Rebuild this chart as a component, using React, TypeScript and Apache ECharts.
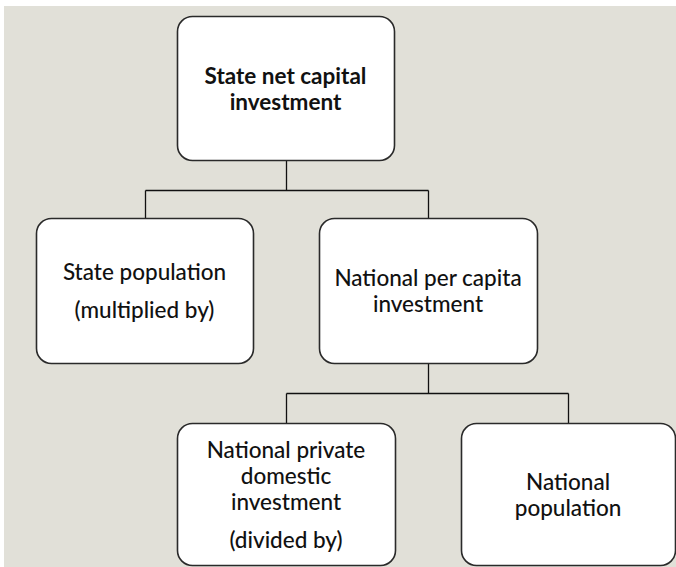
import React, { useEffect, useRef } from "react";
import * as echarts from "echarts";

// ---- data: the tree (labels as paragraphs of lines) ----
const nodeIds = ["root", "statePop", "natPerCap", "natPriv", "natPop"];
const nodeLabels: string[][][] = [
  [["State net capital", "investment"]],
  [["State population"], ["(multiplied by)"]],
  [["National per capita", "investment"]],
  [["National private", "domestic", "investment"], ["(divided by)"]],
  [["National", "population"]],
];
const nodeParents: (string | null)[] = [null, "root", "root", "natPerCap", "natPerCap"];
const boldNodes = ["root"];

// ---- layout (pixels): x, y, width, height ----
const boxLayout: Record<string, number[]> = {
  root: [177, 16, 217, 144],
  statePop: [36, 218, 217, 145],
  natPerCap: [319, 218, 218, 145],
  natPriv: [177, 423, 218, 142],
  natPop: [461, 423, 214, 142],
};
const branchY: Record<string, number> = { root: 190, natPerCap: 393 };

const FONT = "Lato, 'Open Sans', sans-serif";
const FONT_SIZE = 22.5;
const LINE_H = 26;
const PARA_GAP = 12;

function buildElements() {
  const els: any[] = [];
  els.push({
    type: "rect",
    shape: { x: 4, y: 6, width: 672, height: 561 },
    style: { fill: "#e1e0d8" },
    silent: true,
  });

  // connectors
  nodeIds.forEach((pid) => {
    const kids = nodeIds.filter((_, i) => nodeParents[i] === pid);
    if (!kids.length) return;
    const p = boxLayout[pid];
    const px = Math.round(p[0] + p[2] / 2) + 0.5;
    const by = branchY[pid] + 0.5;
    const lineStyle = { stroke: "#111", lineWidth: 1.3, fill: null };
    els.push({ type: "line", shape: { x1: px, y1: p[1] + p[3], x2: px, y2: by }, style: lineStyle });
    const cxs = kids.map((k) => Math.round(boxLayout[k][0] + boxLayout[k][2] / 2) + 0.5);
    els.push({
      type: "line",
      shape: { x1: Math.min(...cxs), y1: by, x2: Math.max(...cxs), y2: by },
      style: lineStyle,
    });
    kids.forEach((k, j) => {
      els.push({
        type: "line",
        shape: { x1: cxs[j], y1: by, x2: cxs[j], y2: boxLayout[k][1] },
        style: lineStyle,
      });
    });
  });

  // boxes and labels
  nodeIds.forEach((id, i) => {
    const [x, y, w, h] = boxLayout[id];
    els.push({
      type: "rect",
      shape: { x: x + 0.5, y: y + 0.5, width: w, height: h, r: 15 },
      style: { fill: "#ffffff", stroke: "#2a2a2a", lineWidth: 1.6 },
    });
    const paras = nodeLabels[i];
    const nLines = paras.reduce((s, p) => s + p.length, 0);
    const total = nLines * LINE_H + (paras.length - 1) * PARA_GAP;
    let cy = y + h / 2 - total / 2 + LINE_H / 2;
    const cx = x + w / 2;
    paras.forEach((para, pi) => {
      para.forEach((line) => {
        els.push({
          type: "text",
          x: cx,
          y: cy,
          style: {
            text: line,
            fill: "#111",
            font: `${boldNodes.includes(id) ? "bold" : "500"} ${FONT_SIZE}px ${FONT}`,
            align: "center",
            verticalAlign: "middle",
          },
        });
        cy += LINE_H;
      });
      if (pi < paras.length - 1) cy += PARA_GAP;
    });
  });
  return els;
}

export default function App() {
  const ref = useRef<HTMLDivElement>(null);
  useEffect(() => {
    if (!ref.current) return;
    const chart = echarts.init(ref.current, null, { renderer: "svg" });
    chart.setOption({
      animation: false,
      backgroundColor: "#ffffff",
      graphic: { elements: buildElements() },
    });
    return () => chart.dispose();
  }, []);
  return (
    <div
      ref={ref}
      style={{ position: "fixed", left: 0, top: 0, width: 676, height: 567 }}
    />
  );
}
